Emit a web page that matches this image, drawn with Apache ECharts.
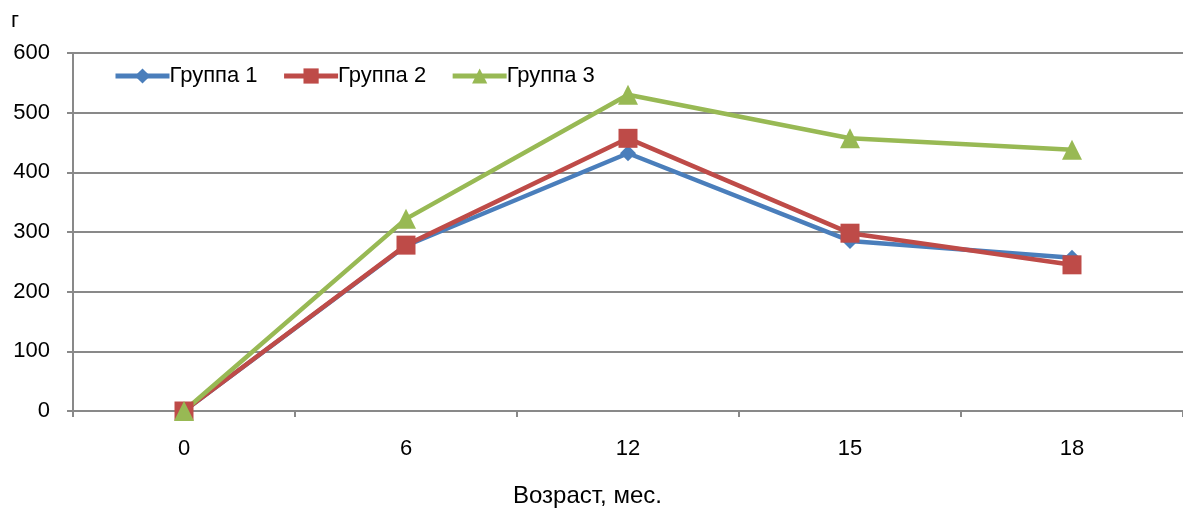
<!DOCTYPE html>
<html>
<head>
<meta charset="utf-8">
<script src="https://cdn.jsdelivr.net/npm/echarts@6/dist/echarts.min.js"></script>
<style>
  html, body { margin: 0; padding: 0; background: #fff; }
  #chart { width: 1183px; height: 512px; }
</style>
</head>
<body>
<div id="chart"></div>
<script>
// age in months
var ages = ['0', '6', '12', '15', '18'];
var group1 = [0, 277, 432, 285, 257];
var group2 = [0, 278, 457, 298, 245];
var group3 = [0, 322, 530, 457, 438];
var yTicks = { min: 0, max: 600, interval: 100 };

var font = 'Liberation Sans, Arial, sans-serif';
var gridColor = '#898989';

var myChart = echarts.init(document.getElementById('chart'));

function lineSeries(name, data, color, symbol, size) {
    return {
        name: name,
        type: 'line',
        data: data,
        symbol: symbol,
        symbolSize: size,
        showAllSymbol: true,
        color: color,
        lineStyle: { color: color, width: 4.5 },
        itemStyle: { color: color },
        emphasis: { disabled: true },
        animation: false
    };
}

var option = {
    textStyle: { fontFamily: font },
    legend: {
        left: 113,
        top: 65,
        padding: 0,
        itemWidth: 54,
        itemHeight: 19,
        itemGap: 24,
        lineStyle: { width: 5 },
        textStyle: { fontFamily: font, fontSize: 22, color: '#000', padding: [0, 0, 0, -5] },
        data: ['Группа 1', 'Группа 2', 'Группа 3']
    },
    grid: {
        left: 73,
        top: 53,
        width: 1113,
        height: 358
    },
    xAxis: {
        type: 'category',
        data: ages,
        boundaryGap: true,
        axisLine: { lineStyle: { color: gridColor, width: 2 } },
        axisTick: { show: true, length: 6, lineStyle: { color: gridColor, width: 2 } },
        axisLabel: { color: '#000', fontSize: 22, fontFamily: font, margin: 27 }
    },
    yAxis: {
        type: 'value',
        min: yTicks.min,
        max: yTicks.max,
        interval: yTicks.interval,
        axisLine: { show: true, lineStyle: { color: gridColor, width: 2 } },
        axisTick: { show: true, length: 6, lineStyle: { color: gridColor, width: 2 } },
        splitLine: { lineStyle: { color: gridColor, width: 2 } },
        axisLabel: { color: '#000', fontSize: 22, fontFamily: font, margin: 23 }
    },
    graphic: [
        {
            type: 'text',
            left: 11,
            top: 10,
            style: { text: 'г', fontSize: 22, fontFamily: font, fill: '#000' }
        },
        {
            type: 'text',
            left: 513,
            top: 484,
            style: { text: 'Возраст, мес.', fontSize: 24, fontFamily: font, fill: '#000' }
        }
    ],
    series: [
        lineSeries('Группа 1', group1, '#4A7EBB', 'diamond', 16),
        lineSeries('Группа 2', group2, '#BE4B48', 'rect', 19),
        lineSeries('Группа 3', group3, '#98B954', 'triangle', 20)
    ]
};
myChart.setOption(option);
</script>
</body>
</html>
